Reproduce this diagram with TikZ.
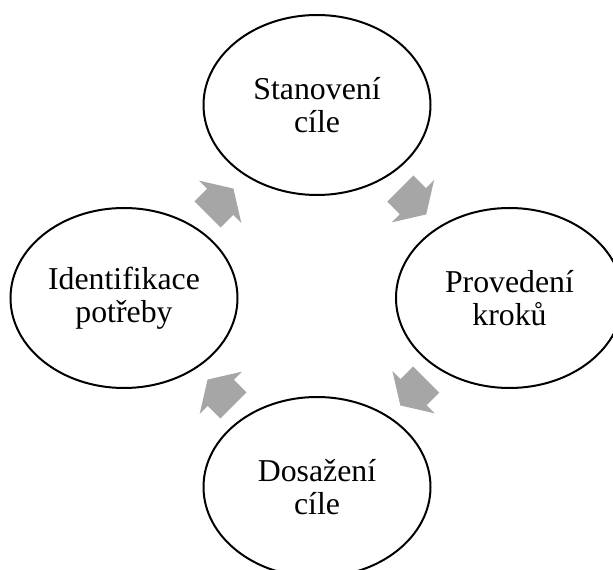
\documentclass[tikz,border=0pt]{standalone}
\usepackage{fontspec}
\setmainfont{Liberation Serif}
\usetikzlibrary{shapes.geometric,calc}
\definecolor{arrowgray}{HTML}{A6A6A6}
\tikzset{
  stage/.style={ellipse, draw=black, line width=2pt, minimum width=227pt,
    minimum height=180pt, inner sep=0pt, align=center,
    font=\fontsize{31.8}{33}\selectfont},
  cyclearrow/.style={fill=arrowgray, draw=none},
}
% block arrow placed halfway between two stages, rotated by #3
\newcommand\stagearrow[3]{%
  \fill[cyclearrow, shift={($(#1)!0.5!(#2)$)}, rotate=#3]
    (-18.3,-18.5) -- (-0.5,-18.5) -- (-0.5,-30) -- (18.3,0) --
    (-0.5,30) -- (-0.5,18.5) -- (-18.3,18.5) -- cycle;}
\begin{document}
\begin{tikzpicture}[x=1pt,y=1pt]
\useasboundingbox (0,0) rectangle (613,570);
\node[stage] (goal)  at (317,465)   {Stanovení\\cíle};
\node[stage] (steps) at (509.5,272) {Provedení\\kroků};
\node[stage] (done)  at (317,83)    {Dosažení\\cíle};
\node[stage] (need)  at (124,272)   {Identifikace\\potřeby};
\stagearrow{need}{goal}{45}
\stagearrow{goal}{steps}{-45}
\stagearrow{steps}{done}{-135}
\stagearrow{done}{need}{135}
\end{tikzpicture}
\end{document}
